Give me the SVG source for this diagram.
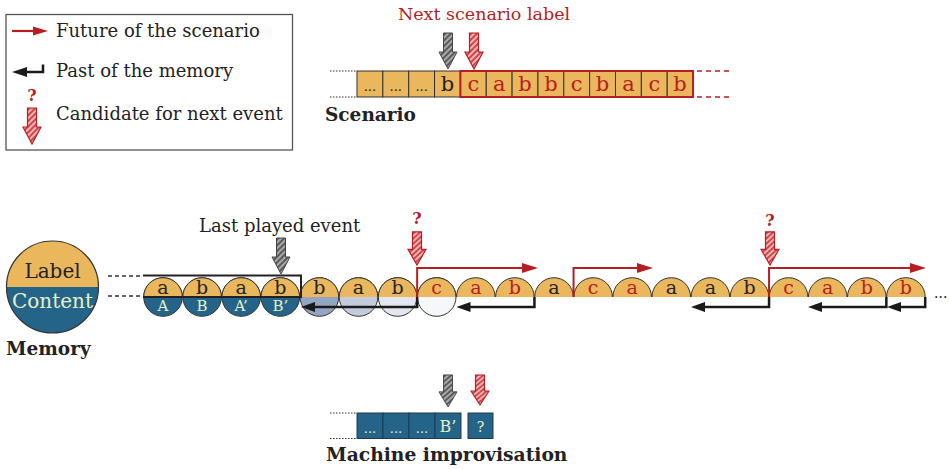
<svg xmlns="http://www.w3.org/2000/svg" xmlns:xlink="http://www.w3.org/1999/xlink" width="949" height="469" viewBox="0 0 949 469">
<defs>
<style>
.t{font-family:"DejaVu Serif","Liberation Serif",serif;fill:#222}
.b{font-weight:bold}
.red{fill:#B81D22}
.lt{fill:#E6F0C4}
.cell{fill:#EAB75C;stroke:#333;stroke-width:1}
.mcell{fill:#256489;stroke:#1E3A4E;stroke-width:1}
.top{fill:#EAB75C;stroke:#333;stroke-width:1}
.ring{fill:none;stroke:#333;stroke-width:1}
.dot{stroke:#333;stroke-width:1;stroke-dasharray:1.5 1.5}
.dash{stroke:#333;stroke-width:1.5;stroke-dasharray:4 3}
.blk{fill:none;stroke:#1a1a1a;stroke-width:2.5;marker-end:url(#mb)}
.rd{fill:none;stroke:#B81D22;stroke-width:2;marker-end:url(#mr)}
.ga{fill:url(#hg);stroke:#444;stroke-width:1}
.ra{fill:url(#hr);stroke:#B81D22;stroke-width:1.2}
</style>
<pattern id="hg" patternUnits="userSpaceOnUse" width="4" height="4" patternTransform="rotate(45)">
<rect width="4" height="4" fill="#a8a8a8"/><rect width="2" height="4" fill="#5a5a5a"/>
</pattern>
<pattern id="hr" patternUnits="userSpaceOnUse" width="4" height="4" patternTransform="rotate(45)">
<rect width="4" height="4" fill="#F2B4B4"/><rect width="2" height="4" fill="#D0454A"/>
</pattern>
<marker id="mb" markerUnits="userSpaceOnUse" viewBox="0 0 14 10" markerWidth="14" markerHeight="10" refX="4" refY="5" orient="auto">
<path d="M0,0 L14,5 L0,10 z" fill="#1a1a1a"/>
</marker>
<marker id="mr" markerUnits="userSpaceOnUse" viewBox="0 0 16 10" markerWidth="16" markerHeight="10" refX="6" refY="5" orient="auto">
<path d="M0,0 L16,5 L0,10 z" fill="#B81D22"/>
</marker>
<path id="arr" d="M-4.5,-36 H4.5 V-17 H9 L0,0 L-9,-17 H-4.5 Z"/>
</defs>
<rect width="949" height="469" fill="#fff"/>

<!-- Legend -->
<g id="legend">
<rect x="6" y="14.5" width="286.5" height="135.5" fill="#fff" stroke="#555" stroke-width="1.3"/>
<line x1="12" y1="31" x2="35" y2="31" stroke="#B81D22" stroke-width="2.2"/>
<polygon points="33,26.5 48,31 33,35.5" fill="#B81D22"/>
<text class="t" x="56" y="37" font-size="18">Future of the scenario</text>
<path d="M43,64.5 V72 H26" fill="none" stroke="#1a1a1a" stroke-width="2.5"/>
<polygon points="27,67 12,72 27,77" fill="#1a1a1a"/>
<text class="t" x="56" y="77" font-size="18">Past of the memory</text>
<text class="t b red" x="32" y="101" font-size="16" text-anchor="middle">?</text>
<use xlink:href="#arr" class="ra" transform="translate(32,144)"/>
<text class="t" x="56" y="120" font-size="18">Candidate for next event</text>
</g>

<!-- Scenario -->
<g id="scenario">
<text class="t red" x="484" y="20" font-size="17.5" text-anchor="middle">Next scenario label</text>
<line class="dot" x1="330" y1="71" x2="356" y2="71"/>
<line class="dot" x1="330" y1="97" x2="356" y2="97"/>
<rect class="cell" x="357" y="71" width="25.85" height="26"/>
<rect class="cell" x="382.85" y="71" width="25.85" height="26"/>
<rect class="cell" x="408.7" y="71" width="25.85" height="26"/>
<rect class="cell" x="434.55" y="71" width="25.85" height="26"/>
<rect class="cell" x="460.4" y="71" width="25.85" height="26"/>
<rect class="cell" x="486.25" y="71" width="25.85" height="26"/>
<rect class="cell" x="512.1" y="71" width="25.85" height="26"/>
<rect class="cell" x="537.95" y="71" width="25.85" height="26"/>
<rect class="cell" x="563.8" y="71" width="25.85" height="26"/>
<rect class="cell" x="589.65" y="71" width="25.85" height="26"/>
<rect class="cell" x="615.5" y="71" width="25.85" height="26"/>
<rect class="cell" x="641.35" y="71" width="25.85" height="26"/>
<rect class="cell" x="667.2" y="71" width="25.85" height="26"/>
<rect x="460.4" y="71" width="232.65" height="26" fill="none" stroke="#B81D22" stroke-width="2"/>
<line x1="697" y1="71" x2="731" y2="71" stroke="#B81D22" stroke-width="1.5" stroke-dasharray="5 4"/>
<line x1="697" y1="97" x2="731" y2="97" stroke="#B81D22" stroke-width="1.5" stroke-dasharray="5 4"/>
<g font-size="13" text-anchor="middle">
<text class="t" x="369.9" y="91">...</text>
<text class="t" x="395.8" y="91">...</text>
<text class="t" x="421.6" y="91">...</text>
</g>
<g font-size="21" text-anchor="middle">
<text class="t" x="447.5" y="91">b</text>
<text class="t red" x="473.3" y="91">c</text>
<text class="t red" x="499.2" y="91">a</text>
<text class="t red" x="525" y="91">b</text>
<text class="t red" x="550.9" y="91">b</text>
<text class="t red" x="576.7" y="91">c</text>
<text class="t red" x="602.6" y="91">b</text>
<text class="t red" x="628.4" y="91">a</text>
<text class="t red" x="654.3" y="91">c</text>
<text class="t red" x="680.1" y="91">b</text>
</g>
<use xlink:href="#arr" class="ga" transform="translate(448,69)"/>
<use xlink:href="#arr" class="ra" transform="translate(474,69)"/>
<text class="t b" x="325" y="121" font-size="18.5">Scenario</text>
</g>

<!-- Memory legend circle -->
<g id="memory-key">
<path d="M6.5,287 A46,46 0 0 1 98.5,287 Z" fill="#EAB75C"/>
<path d="M6.5,287 A46,46 0 0 0 98.5,287 Z" fill="#256489"/>
<circle cx="52.5" cy="287" r="46" fill="none" stroke="#333" stroke-width="1.2"/>
<text class="t" x="52.5" y="278" font-size="20" text-anchor="middle">Label</text>
<text class="t lt" x="52.5" y="308" font-size="20" text-anchor="middle">Content</text>
<text class="t b" x="6" y="355" font-size="18.5">Memory</text>
<line class="dash" x1="108" y1="276" x2="143" y2="276"/>
<line class="dash" x1="108" y1="296" x2="143" y2="296"/>
</g>

<!-- Memory events -->
<g id="memory">
<g id="full-circles">
<path d="M143.7,297 A19.3,19.3 0 0 0 182.3,297 Z" fill="#256489"/>
<path d="M182.8,297 A19.3,19.3 0 0 0 221.4,297 Z" fill="#256489"/>
<path d="M221.9,297 A19.3,19.3 0 0 0 260.5,297 Z" fill="#256489"/>
<path d="M261,297 A19.3,19.3 0 0 0 299.6,297 Z" fill="#256489"/>
<path d="M300.1,297 A19.3,19.3 0 0 0 338.7,297 Z" fill="#93A5C2"/>
<path d="M339.2,297 A19.3,19.3 0 0 0 377.8,297 Z" fill="#C3CCDC"/>
<path d="M378.3,297 A19.3,19.3 0 0 0 416.9,297 Z" fill="#E2E6EE"/>
<path d="M417.4,297 A19.3,19.3 0 0 0 456,297 Z" fill="#F6F7FA"/>
<circle class="ring" cx="163" cy="297" r="19.3"/>
<circle class="ring" cx="202.1" cy="297" r="19.3"/>
<circle class="ring" cx="241.2" cy="297" r="19.3"/>
<circle class="ring" cx="280.3" cy="297" r="19.3"/>
<circle class="ring" cx="319.4" cy="297" r="19.3"/>
<circle class="ring" cx="358.5" cy="297" r="19.3"/>
<circle class="ring" cx="397.6" cy="297" r="19.3"/>
<circle class="ring" cx="436.7" cy="297" r="19.3"/>
</g>
<g id="tops">
<path class="top" d="M143.7,297 A19.3,19.3 0 0 1 182.3,297"/>
<path class="top" d="M182.8,297 A19.3,19.3 0 0 1 221.4,297"/>
<path class="top" d="M221.9,297 A19.3,19.3 0 0 1 260.5,297"/>
<path class="top" d="M261,297 A19.3,19.3 0 0 1 299.6,297"/>
<path class="top" d="M300.1,297 A19.3,19.3 0 0 1 338.7,297"/>
<path class="top" d="M339.2,297 A19.3,19.3 0 0 1 377.8,297"/>
<path class="top" d="M378.3,297 A19.3,19.3 0 0 1 416.9,297"/>
<path class="top" d="M417.4,297 A19.3,19.3 0 0 1 456,297"/>
<path class="top" d="M456.5,297 A19.3,19.3 0 0 1 495.1,297"/>
<path class="top" d="M495.6,297 A19.3,19.3 0 0 1 534.2,297"/>
<path class="top" d="M534.7,297 A19.3,19.3 0 0 1 573.3,297"/>
<path class="top" d="M573.8,297 A19.3,19.3 0 0 1 612.4,297"/>
<path class="top" d="M612.9,297 A19.3,19.3 0 0 1 651.5,297"/>
<path class="top" d="M652,297 A19.3,19.3 0 0 1 690.6,297"/>
<path class="top" d="M691.1,297 A19.3,19.3 0 0 1 729.7,297"/>
<path class="top" d="M730.2,297 A19.3,19.3 0 0 1 768.8,297"/>
<path class="top" d="M769.3,297 A19.3,19.3 0 0 1 807.9,297"/>
<path class="top" d="M808.4,297 A19.3,19.3 0 0 1 847,297"/>
<path class="top" d="M847.5,297 A19.3,19.3 0 0 1 886.1,297"/>
<path class="top" d="M886.6,297 A19.3,19.3 0 0 1 925.2,297"/>
</g>
<g font-size="19" text-anchor="middle">
<text class="t" x="163" y="294">a</text>
<text class="t" x="202.1" y="294">b</text>
<text class="t" x="241.2" y="294">a</text>
<text class="t" x="280.3" y="294">b</text>
<text class="t" x="319.4" y="294">b</text>
<text class="t" x="358.5" y="294">a</text>
<text class="t" x="397.6" y="294">b</text>
<text class="t red" x="436.7" y="294">c</text>
<text class="t red" x="475.8" y="294">a</text>
<text class="t red" x="514.9" y="294">b</text>
<text class="t" x="554" y="294">a</text>
<text class="t red" x="593.1" y="294">c</text>
<text class="t red" x="632.2" y="294">a</text>
<text class="t" x="671.3" y="294">a</text>
<text class="t" x="710.4" y="294">a</text>
<text class="t" x="749.5" y="294">b</text>
<text class="t red" x="788.6" y="294">c</text>
<text class="t red" x="827.7" y="294">a</text>
<text class="t red" x="866.8" y="294">b</text>
<text class="t red" x="905.9" y="294">b</text>
</g>
<g font-size="15" text-anchor="middle">
<text class="t lt" x="163" y="311">A</text>
<text class="t lt" x="202.1" y="311">B</text>
<text class="t lt" x="241.2" y="311">A’</text>
<text class="t lt" x="280.3" y="311">B’</text>
</g>
<path d="M143,275.5 H301 V297 H143" fill="none" stroke="#222" stroke-width="2"/>
<text class="t" x="934" y="298" font-size="14">...</text>
<text class="t" x="199" y="232" font-size="18">Last played event</text>
<use xlink:href="#arr" class="ga" transform="translate(281,274)"/>
<text class="t b red" x="417" y="224" font-size="16" text-anchor="middle">?</text>
<use xlink:href="#arr" class="ra" transform="translate(417,265) scale(1,0.92)"/>
<text class="t b red" x="770" y="226" font-size="16" text-anchor="middle">?</text>
<use xlink:href="#arr" class="ra" transform="translate(770,265) scale(1,0.92)"/>
</g>

<!-- Connectors -->
<g id="connectors">
<path class="blk" d="M417.15,297 V307 H311"/>
<path class="blk" d="M534.45,297 V307 H466.5"/>
<path class="blk" d="M769.05,297 V307 H701"/>
<path class="blk" d="M886.35,297 V307 H818"/>
<path class="blk" d="M925.2,297 V307 H897"/>
<path class="rd" d="M417.15,297 V268 H528"/>
<path class="rd" d="M573.55,297 V268 H643"/>
<path class="rd" d="M769.05,297 V268 H916"/>
</g>

<!-- Machine improvisation -->
<g id="machine">
<line class="dot" x1="330" y1="413" x2="356" y2="413"/>
<line class="dot" x1="330" y1="438.5" x2="356" y2="438.5"/>
<rect class="mcell" x="357" y="413" width="26" height="25.5"/>
<rect class="mcell" x="383" y="413" width="26" height="25.5"/>
<rect class="mcell" x="409" y="413" width="26" height="25.5"/>
<rect class="mcell" x="435" y="413" width="26" height="25.5"/>
<rect class="mcell" x="468" y="413" width="25" height="25.5"/>
<g font-size="13" text-anchor="middle">
<text class="t lt" x="370" y="433">...</text>
<text class="t lt" x="396" y="433">...</text>
<text class="t lt" x="422" y="433">...</text>
</g>
<text class="t lt" x="448" y="432" font-size="16" text-anchor="middle">B’</text>
<text class="t lt" x="480.5" y="432" font-size="14" text-anchor="middle">?</text>
<use xlink:href="#arr" class="ga" transform="translate(448,407) scale(1,0.89)"/>
<use xlink:href="#arr" class="ra" transform="translate(480,405) scale(1,0.83)"/>
<text class="t b" x="326" y="461" font-size="18.7">Machine improvisation</text>
</g>
</svg>
